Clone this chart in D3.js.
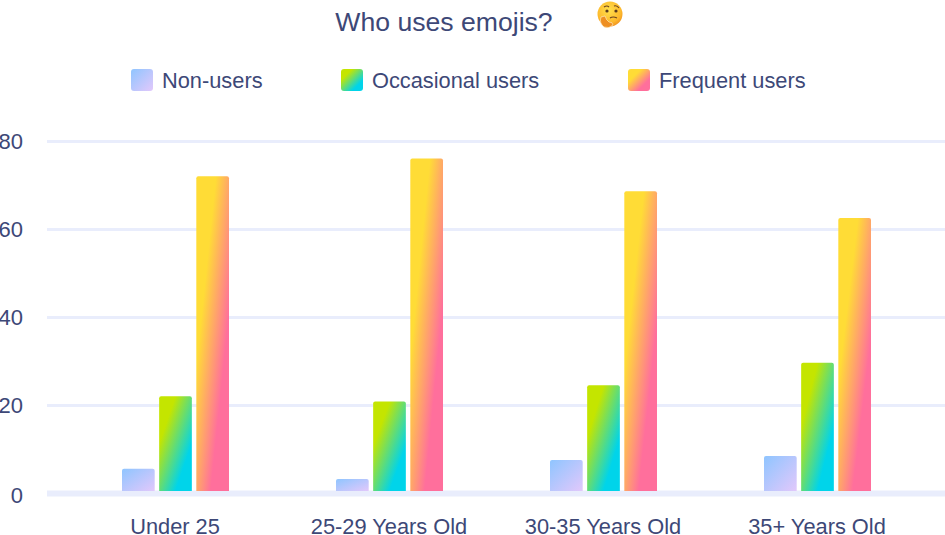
<!DOCTYPE html>
<html>
<head>
<meta charset="utf-8">
<script src="https://cdn.jsdelivr.net/npm/d3@7"></script>
<style>
  html, body { margin: 0; padding: 0; background: #fff; }
  svg { display: block; font-family: "Liberation Sans", Arial, sans-serif; }
  text { fill: #3d4877; }
  .domain { display: none; }
</style>
</head>
<body>
<div id="chart"></div>
<script>
var W = 945, H = 535;

var categories = ["Under 25", "25-29 Years Old", "30-35 Years Old", "35+ Years Old"];
var seriesNames = ["Non-users", "Occasional users", "Frequent users"];
var nonUsers = [5.5, 3.2, 7.5, 8.4];
var occasionalUsers = [22, 20.8, 24.5, 29.6];
var frequentUsers = [72, 76, 68.6, 62.5];
var yTicks = [0, 20, 40, 60, 80];
var legendX = [131, 341, 628];

var seriesValues = [nonUsers, occasionalUsers, frequentUsers];

var svg = d3.select("#chart").append("svg")
  .attr("width", W)
  .attr("height", H);

var defs = svg.append("defs");

// one gradient per series, stretched over each bar's box
function addGradient(id, stops){
  var g = defs.append("linearGradient")
    .attr("id", id)
    .attr("x1", 0).attr("y1", 0)
    .attr("x2", 1).attr("y2", 1);
  stops.forEach(function(s){
    g.append("stop").attr("offset", s[0]).attr("stop-color", s[1]);
  });
}
addGradient("grad0", [[0, "#8fc5ff"], [1, "#e2c8fb"]]);
addGradient("grad1", [[0.25, "#c4e500"], [0.75, "#00d4ea"]]);
addGradient("grad2", [[0.3, "#ffdc36"], [0.72, "#ff6f9c"]]);

var y = d3.scaleLinear().domain([0, 80]).range([493, 141]);
var x = d3.scaleBand().domain(categories).range([68, 924]);
var xSub = d3.scaleBand().domain(seriesNames)
  .range([x.bandwidth() / 2 - 53, x.bandwidth() / 2 + 54])
  .paddingInner(0.12);

// y axis with gridlines
var yAxis = svg.append("g")
  .attr("transform", "translate(47,0)")
  .call(d3.axisLeft(y).tickValues(yTicks).tickSize(-(W - 47)).tickPadding(24).tickFormat(d3.format("d")));
yAxis.selectAll(".tick line")
  .attr("stroke", "#e9edfc")
  .attr("stroke-width", function(d){ return d === 0 ? 6 : 3; });
yAxis.selectAll(".tick text")
  .style("font-family", "inherit")
  .style("font-size", "22px")
  .attr("dy", function(d){ return d === 0 ? "0.42em" : "0.32em"; });

// x axis
var xAxis = svg.append("g")
  .attr("transform", "translate(0,493)")
  .call(d3.axisBottom(x).tickSize(0).tickPadding(26));
xAxis.selectAll(".tick text")
  .style("font-family", "inherit")
  .style("font-size", "21.8px");

// bars
var groups = svg.selectAll(".cat")
  .data(categories)
  .enter().append("g")
  .attr("class", "cat")
  .attr("transform", function(d){ return "translate(" + x(d) + ",0)"; });

groups.selectAll("path")
  .data(function(d, i){
    return seriesNames.map(function(s, j){
      return { series: s, idx: j, value: seriesValues[j][i] };
    });
  })
  .enter().append("path")
  .attr("fill", function(d){ return "url(#grad" + d.idx + ")"; })
  .attr("d", function(d){
    var x0 = xSub(d.series), w = xSub.bandwidth(), top = y(d.value), bot = y(0) - 2, r = 2;
    return "M" + x0 + "," + bot +
      "V" + (top + r) + "Q" + x0 + "," + top + " " + (x0 + r) + "," + top +
      "H" + (x0 + w - r) + "Q" + (x0 + w) + "," + top + " " + (x0 + w) + "," + (top + r) +
      "V" + bot + "Z";
  });

// title
svg.append("text")
  .attr("x", 444)
  .attr("y", 31)
  .attr("text-anchor", "middle")
  .style("font-size", "26.6px")
  .text("Who uses emojis?");

// thinking face, drawn since no emoji font is available
var emoji = svg.append("g").attr("transform", "translate(610,14)");
var faceGrad = defs.append("radialGradient").attr("id", "face").attr("cx", 0.45).attr("cy", 0.35).attr("r", 0.7);
faceGrad.append("stop").attr("offset", 0).attr("stop-color", "#ffe04d");
faceGrad.append("stop").attr("offset", 0.7).attr("stop-color", "#fdb92c");
faceGrad.append("stop").attr("offset", 1).attr("stop-color", "#ee8a1c");
emoji.append("circle").attr("r", 12.5).attr("fill", "url(#face)");
emoji.append("circle").attr("cx", -3).attr("cy", -3).attr("r", 1.6).attr("fill", "#5a3a1e");
emoji.append("circle").attr("cx", 6).attr("cy", -3).attr("r", 1.6).attr("fill", "#5a3a1e");
emoji.append("path").attr("d", "M-6,-7Q-3,-9 -1,-7M4,-8Q7,-9 9,-6").attr("fill", "none").attr("stroke", "#6b4420").attr("stroke-width", 1.2);
emoji.append("path").attr("d", "M0,4Q3,2 7,4").attr("fill", "none").attr("stroke", "#6b4420").attr("stroke-width", 1.2);
emoji.append("path").attr("d", "M-9,3Q-11,9 -6,13Q-1,15 3,11Q3,8 -1,8Q-4,6 -5,2Z").attr("fill", "#ee8f22").attr("stroke", "#fff3d0").attr("stroke-width", 0.6);

// legend
var legend = svg.selectAll(".legend")
  .data(seriesNames)
  .enter().append("g")
  .attr("class", "legend")
  .attr("transform", function(d, i){ return "translate(" + legendX[i] + ",69)"; });
legend.append("rect")
  .attr("width", 22).attr("height", 22).attr("rx", 3)
  .attr("fill", function(d, i){ return "url(#grad" + i + ")"; });
legend.append("text")
  .attr("x", 31).attr("y", 19)
  .style("font-size", "21.8px")
  .text(function(d){ return d; });
</script>
</body>
</html>
